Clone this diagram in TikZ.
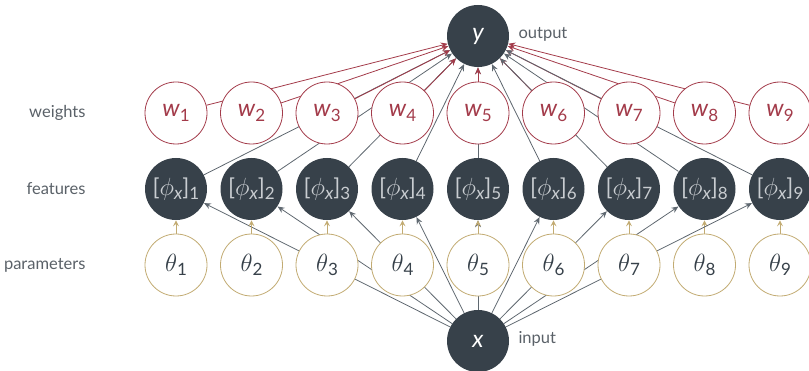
\documentclass[tikz,border=0pt]{standalone}
\usepackage{fontspec}
\setmainfont{Lato}
\usetikzlibrary{arrows.meta,backgrounds}
\definecolor{dark}{HTML}{37414A}
\definecolor{wred}{HTML}{A33B4A}
\definecolor{tan}{HTML}{C2AB72}
\definecolor{linegray}{HTML}{5F6870}
\definecolor{labelgray}{HTML}{5A6168}
\definecolor{phitext}{HTML}{C9CDD1}
\newcommand{\subs}[1]{\raisebox{-0.35ex}{\fontsize{17}{17}\selectfont #1}}
\newcommand{\subx}[1]{\raisebox{-0.35ex}{\fontsize{18}{18}\selectfont\itshape #1}}
\tikzset{
  base/.style={circle, minimum size=62pt, inner sep=0pt, line width=0.8pt},
  darknode/.style={base, fill=dark, text=white, font=\fontsize{24}{24}\selectfont\itshape},
  phinode/.style={base, fill=dark, text=phitext, font=\fontsize{23}{23}\selectfont},
  wnode/.style={base, draw=wred, fill=white, text=wred, font=\fontsize{24}{24}\selectfont},
  thetanode/.style={base, draw=tan, fill=white, text=dark, font=\fontsize{24}{24}\selectfont},
  rowlabel/.style={anchor=east, text=labelgray, font=\fontsize{16.5}{16.5}\selectfont},
  sidelabel/.style={anchor=west, text=labelgray, font=\fontsize{16.5}{16.5}\selectfont},
  tip/.style={-{Stealth[length=7pt,width=6pt,inset=2.5pt]}},
  graylink/.style={tip, draw=linegray, line width=0.8pt},
  redlink/.style={tip, draw=wred, line width=0.8pt},
  tanlink/.style={-{Stealth[length=6pt,width=6pt,inset=2.5pt]}, draw=tan, line width=0.8pt}
}
\begin{document}
\begin{tikzpicture}[x=1pt,y=1pt]
\useasboundingbox (0,0) rectangle (809,370);
\node[darknode] (y) at (478,334) {y};
\node[darknode] (x) at (478,29) {x};
\foreach \i in {1,...,9} {
  \pgfmathsetmacro{\xx}{176+(\i-1)*75.5}
  \node[wnode] (w\i) at (\xx,257) {\textit{w}\subs{\i}};
  \node[phinode] (phi\i) at (\xx,181) {[$\phi$\subx{x}]\subs{\i}};
  \node[thetanode] (theta\i) at (\xx,105) {$\theta$\subs{\i}};
}
\node[rowlabel] (lw) at (89,257) {weights};
\node[rowlabel] (lf) at (89,181) {features};
\node[rowlabel] (lp) at (89,105) {parameters};
\node[sidelabel] (lo) at (515,336) {output};
\node[sidelabel] (li) at (515,31) {input};
\begin{scope}[on background layer]
\foreach \i in {1,...,9} {
  \draw[graylink] (x) -- (phi\i);
  \draw[graylink] (phi\i) -- (y);
  \draw[redlink] (w\i) -- (y);
  \draw[tanlink] (theta\i) -- (phi\i);
}
\end{scope}
\end{tikzpicture}
\end{document}
